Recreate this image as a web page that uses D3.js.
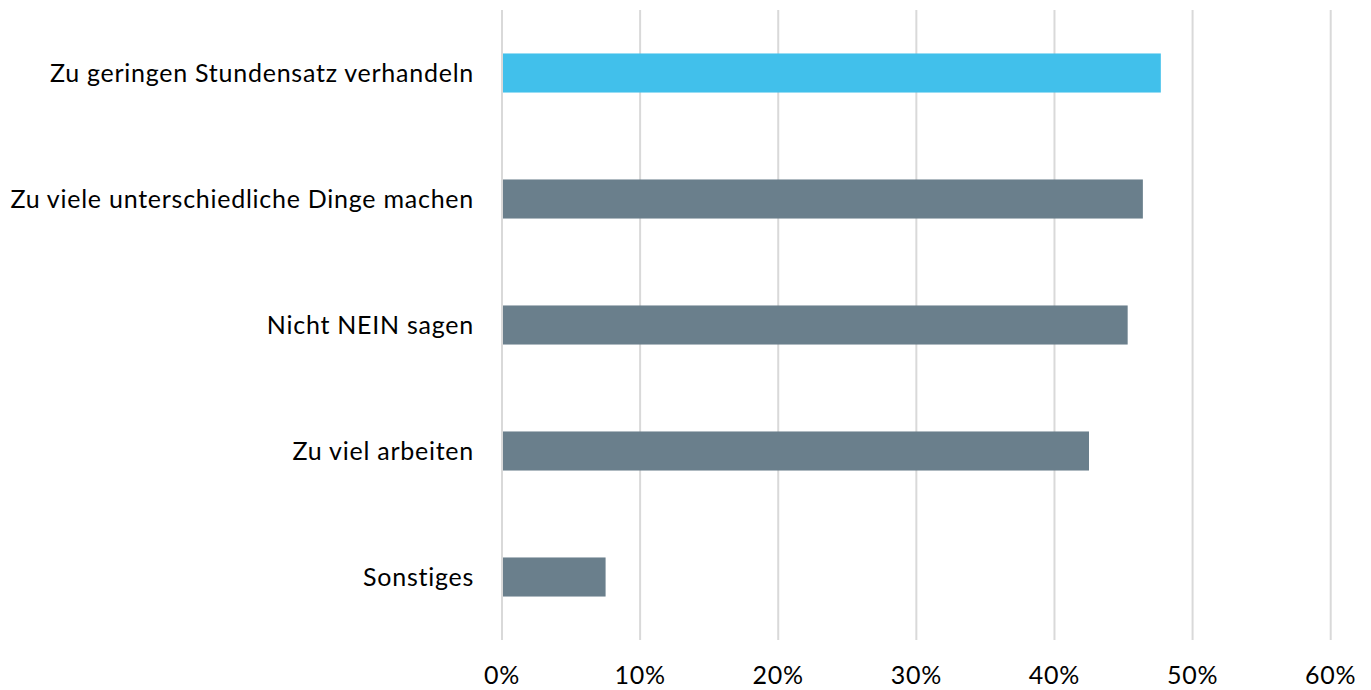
<!DOCTYPE html>
<html><head><meta charset="utf-8">
<script src="https://cdn.jsdelivr.net/npm/d3@7"></script>
<style>body{margin:0;background:#fff}svg{display:block}text{font-family:Lato,"Open Sans",sans-serif;fill:#000}</style>
</head><body>
<svg id="c" width="1371" height="690"></svg>
<script>
const categories = ["Zu geringen Stundensatz verhandeln","Zu viele unterschiedliche Dinge machen","Nicht NEIN sagen","Zu viel arbeiten","Sonstiges"];
const values = [47.7, 46.4, 45.3, 42.5, 7.5];
const highlight = [true, false, false, false, false];
const tickValues = [0,10,20,30,40,50,60];
const tickLabels = ["0%","10%","20%","30%","40%","50%","60%"];

const svg = d3.select("#c");
const x = d3.scaleLinear().domain([0,60]).range([502,1330.7]);
const y = d3.scaleBand().domain(categories).range([10,640]).paddingInner(0.69).paddingOuter(0.345);

svg.append("g").selectAll("line").data(tickValues).join("line")
  .attr("x1",d=>x(d)).attr("x2",d=>x(d)).attr("y1",10).attr("y2",640)
  .attr("stroke","#d9d9d9").attr("stroke-width",2);

svg.append("g").selectAll("rect").data(categories).join("rect")
  .attr("x",x(0)+1).attr("y",d=>y(d))
  .attr("width",(d,i)=>x(values[i])-x(0)-1).attr("height",y.bandwidth())
  .attr("fill",(d,i)=>highlight[i]?"#41c0eb":"#6a7f8c");

svg.append("g").selectAll("text").data(categories).join("text")
  .attr("x",474).attr("y",d=>y(d)+y.bandwidth()/2).attr("dy","0.35em")
  .attr("text-anchor","end").attr("font-size",25).attr("letter-spacing",0.75).text(d=>d);

svg.append("g").selectAll("text").data(tickValues).join("text")
  .attr("x",d=>x(d)).attr("y",684).attr("text-anchor","middle").attr("font-size",25).attr("letter-spacing",0.75)
  .text((d,i)=>tickLabels[i]);
</script>
</body></html>
